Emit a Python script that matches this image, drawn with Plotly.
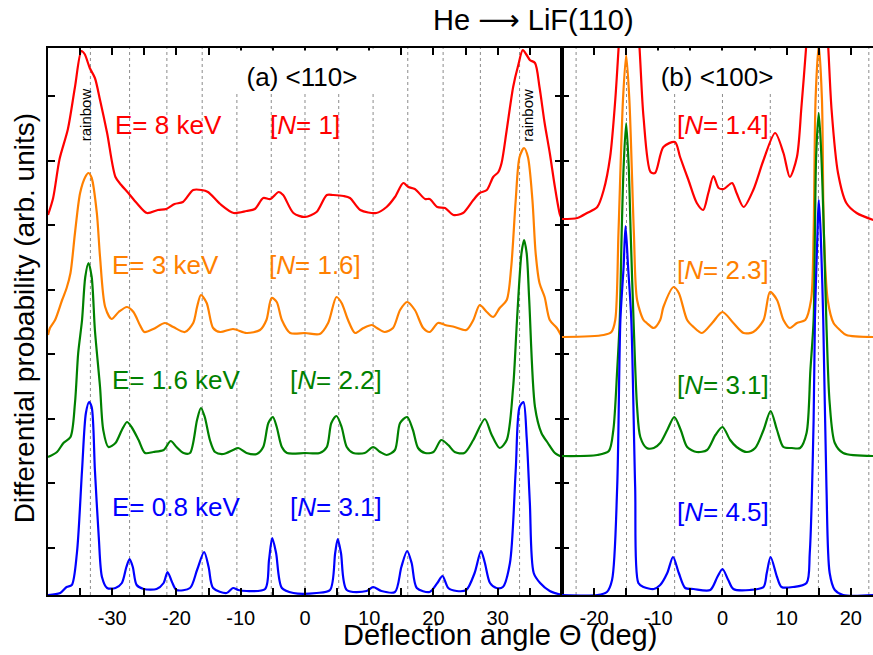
import plotly.graph_objects as go

# ---------------- data ----------------
# Panel (a) <110>
red_a_x = [-40, -39.2, -38.2, -36.9, -35.8, -34.8, -34.3, -33.5, -32.7, -31.9, -30.8, -29.5, -28.6, -27.5, -26.2,
           -24.6, -22.9, -21.6, -20.3, -19.0, -17.4, -16.1, -15.1, -13.2, -11.1, -9.1, -7.8, -6.5, -5.4, -4.1,
           -3.4, -1.8, 0, 1.8, 3.4, 4.4, 6.0, 7.0, 8.6, 11.1, 12.7, 14.0, 15.3, 16.1, 17.1, 18.7, 19.4, 20.6,
           21.8, 23.1, 24.6, 26.2, 27.2, 28.3, 29.3, 30.1, 30.6, 31.4, 32.4, 33.2, 33.9, 34.5, 35.0, 35.8, 36.5,
           37.3, 38.1, 38.9, 39.7, 40]
red_a_y = [3.80, 3.97, 4.36, 4.66, 5.08, 5.44, 5.41, 5.27, 5.17, 4.95, 4.62, 4.18, 4.10, 4.02, 3.92,
           3.82, 3.85, 3.86, 3.91, 3.93, 4.05, 4.05, 4.03, 3.91, 3.82, 3.84, 3.86, 3.97, 3.96, 4.03,
           4.00, 3.82, 3.78, 3.83, 4.00, 4.00, 3.99, 3.97, 3.85, 3.82, 3.88, 3.98, 4.12, 4.08, 4.06, 3.96, 3.96, 3.88,
           3.87, 3.80, 3.82, 3.95, 4.02, 4.05, 4.18, 4.23, 4.32, 4.65, 5.08, 5.30, 5.45, 5.40, 5.35, 5.32, 5.08,
           4.72, 4.42, 4.08, 3.80, 3.76]

orange_a_x = [-40, -39.7, -38.9, -37.8, -37.1, -36.5, -35.8, -35.0, -34.2, -33.7, -33.2, -32.4, -31.9, -31.1, -30.1,
              -29.0, -27.7, -26.7, -25.7, -25.0, -23.6, -21.8, -20.5, -18.7, -17.4, -16.8, -16.2, -15.3, -14.3,
              -13.2, -11.2, -9.1, -7.0, -6.0, -5.2, -4.4, -3.6, -2.3, 0, 2.3, 3.6, 4.9, 5.7, 6.7, 7.8, 9.1, 10.4,
              11.2, 12.4, 13.7, 14.8, 15.9, 17.1, 18.4, 19.4, 20.7, 21.8, 23.3, 25.1, 26.2, 27.2, 28.3, 29.3, 30.3,
              31.4, 32.1, 32.8, 33.4, 34.1, 34.7, 35.4, 35.9, 36.5, 37.3, 38.1, 39.2, 40]
orange_a_y = [2.60, 2.67, 2.75, 2.95, 3.07, 3.22, 3.62, 4.02, 4.18, 4.22, 4.17, 3.82, 3.38, 2.88, 2.76,
              2.83, 2.88, 2.83, 2.70, 2.63, 2.66, 2.72, 2.68, 2.63, 2.72, 2.88, 3.00, 2.92, 2.67,
              2.63, 2.66, 2.62, 2.65, 2.75, 2.97, 2.93, 2.75, 2.62, 2.62, 2.61, 2.72, 2.98, 2.92, 2.75, 2.62, 2.67, 2.70,
              2.67, 2.63, 2.67, 2.85, 2.93, 2.85, 2.67, 2.63, 2.72, 2.70, 2.68, 2.65, 2.75, 2.90, 2.83, 2.78, 2.87,
              2.95, 3.28, 3.95, 4.38, 4.47, 4.38, 3.95, 3.42, 3.12, 2.98, 2.75, 2.67, 2.58]

green_a_x = [-40, -38.6, -37.6, -36.5, -35.8, -35.3, -34.7, -34.2, -33.7, -33.2, -32.7, -31.9, -31.4, -30.6, -29.5,
             -28.5, -27.7, -27.0, -25.9, -24.9, -23.6, -22.0, -20.9, -20.0, -18.9, -17.9, -16.8, -16.2, -15.6,
             -14.8, -14.0, -12.7, -11.2, -10.4, -9.1, -7.5, -6.5, -5.7, -5.0, -4.4, -3.6, -2.8, 0, 2.3, 3.4, 4.1,
             4.9, 5.7, 6.5, 7.5, 9.3, 10.6, 11.7, 12.7, 14.0, 14.8, 15.9, 16.8, 17.6, 18.7, 20.0, 21.2, 22.3, 23.3,
             24.8, 26.2, 28.0, 29.0, 30.3, 31.4, 32.4, 33.0, 33.7, 34.1, 34.5, 34.9, 35.8, 36.8, 37.8, 38.9, 40]
green_a_y = [1.38, 1.43, 1.52, 1.58, 1.92, 2.42, 2.75, 3.18, 3.32, 3.18, 2.65, 2.08, 1.65, 1.48, 1.52,
             1.65, 1.73, 1.68, 1.55, 1.42, 1.43, 1.45, 1.54, 1.48, 1.42, 1.42, 1.75, 1.87, 1.78,
             1.55, 1.43, 1.41, 1.45, 1.47, 1.42, 1.41, 1.48, 1.72, 1.78, 1.68, 1.48, 1.42, 1.42, 1.42, 1.48, 1.72,
             1.79, 1.68, 1.48, 1.42, 1.42, 1.48, 1.43, 1.40, 1.45, 1.72, 1.78, 1.65, 1.47, 1.42, 1.43, 1.55, 1.50, 1.43,
             1.42, 1.55, 1.76, 1.61, 1.47, 1.55, 2.08, 2.75, 3.42, 3.55, 3.42, 2.95, 1.88, 1.62, 1.52, 1.42, 1.38]

blue_a_x = [-40, -38.1, -37.1, -36.3, -35.5, -34.7, -34.1, -33.6, -33.2, -32.7, -32.1, -31.6, -30.8, -29.5, -28.5,
            -27.8, -27.3, -26.8, -26.2, -25.1, -23.1, -22.0, -21.4, -20.7, -20.0, -17.9, -16.8, -15.7, -15.0,
            -14.3, -12.2, -11.2, -10.4, -9.1, -6.2, -5.6, -5.1, -4.5, -3.6, -1.8, 1.8, 3.9, 4.7, 5.1, 5.6, 6.5,
            9.6, 10.6, 11.9, 14.0, 15.0, 15.9, 16.6, 17.4, 19.4, 20.6, 21.4, 22.3, 23.6, 25.1, 26.4, 27.4, 28.0,
            28.8, 29.8, 30.8, 31.9, 32.8, 33.4, 34.0, 34.5, 35.0, 35.6, 36.6, 38.1, 40]
blue_a_y = [0.0, 0.02, 0.08, 0.10, 0.42, 1.25, 1.82, 1.93, 1.88, 1.25, 0.58, 0.18, 0.07, 0.07, 0.12,
            0.28, 0.36, 0.28, 0.10, 0.06, 0.06, 0.12, 0.23, 0.13, 0.05, 0.07, 0.25, 0.43, 0.28,
            0.07, 0.02, 0.07, 0.05, 0.04, 0.06, 0.35, 0.57, 0.42, 0.07, 0.02, 0.02, 0.05, 0.42, 0.56, 0.42, 0.05,
            0.04, 0.08, 0.04, 0.03, 0.28, 0.44, 0.32, 0.07, 0.03, 0.12, 0.19, 0.07, 0.04, 0.05, 0.22, 0.44, 0.32,
            0.12, 0.07, 0.08, 0.32, 1.25, 1.88, 1.93, 1.58, 0.92, 0.22, 0.12, 0.04, 0.0]

# Panel (b) <100>
red_b_x = [-25, -22.6, -21.1, -19.5, -18.5, -17.5, -16.7, -16.2, -15.5, -14.5, -13.5, -12.9, -12.3, -11.2, -10.5,
           -9.2, -7.4, -6.6, -5.3, -4.0, -3.0, -2.2, -1.4, -0.6, 0.2, 1.5, 2.2, 3.3, 4.8, 6.4, 8.2, 9.5, 10.5,
           11.6, 12.3, 13.0, 13.8, 15.0, 16.0, 16.5, 17.0, 18.0, 19.3, 20.9, 23.5]
red_b_y = [3.76, 3.77, 3.82, 3.88, 4.05, 4.38, 4.95, 5.45, 6.2, 6.3, 6.0, 5.45, 4.78, 4.23, 4.22,
           4.48, 4.53, 4.38, 4.15, 3.92, 3.85, 4.02, 4.19, 4.07, 4.06, 4.12, 4.02, 3.88, 4.05, 4.35, 4.62, 4.42, 4.18,
           4.38, 4.88, 5.45, 6.2, 6.3, 6.0, 5.45, 4.85, 4.22, 3.92, 3.82, 3.75]

orange_b_x = [-25, -18.5, -17.3, -16.7, -16.2, -15.5, -15.0, -14.5, -13.8, -13.3, -12.3, -11.8, -10.7, -9.7, -9.2,
              -7.6, -6.8, -5.5, -4.5, -3.2, -1.6, 0, 1.7, 3.3, 4.8, 6.4, 7.4, 8.5, 9.5, 10.5, 11.6, 12.9, 13.8,
              14.2, 14.5, 15.0, 15.5, 15.8, 16.4, 17.3, 18.3, 19.3, 23.5]
orange_b_y = [2.58, 2.60, 2.63, 2.75, 3.62, 4.95, 5.40, 4.95, 3.62, 2.95, 2.75, 2.72, 2.67, 2.75, 2.88,
              3.08, 3.02, 2.75, 2.68, 2.62, 2.72, 2.83, 2.72, 2.62, 2.63, 2.75, 3.03, 2.95, 2.75, 2.67, 2.72, 2.75, 2.95,
              3.62, 4.95, 5.50, 4.95, 3.62, 2.95, 2.72, 2.65, 2.60, 2.58]

green_b_x = [-25, -19.5, -17.7, -17.0, -16.4, -16.0, -15.7, -15.4, -15.0, -14.6, -14.3, -13.8, -13.3, -12.8, -11.8,
             -10.7, -9.7, -8.6, -7.5, -6.5, -5.5, -4.0, -2.4, -1.1, 0, 1.2, 2.2, 3.8, 5.1, 6.4, 7.5, 8.5, 9.5,
             10.8, 12.1, 13.1, 13.7, 14.2, 14.4, 14.6, 15.0, 15.4, 15.8, 16.2, 16.7, 17.5, 18.8, 23.5]
green_b_y = [1.39, 1.40, 1.44, 1.65, 2.25, 2.75, 3.62, 4.28, 4.72, 4.28, 3.62, 2.65, 1.88, 1.58, 1.47,
             1.47, 1.52, 1.65, 1.78, 1.65, 1.48, 1.43, 1.45, 1.60, 1.68, 1.55, 1.48, 1.43, 1.47, 1.65, 1.84, 1.65, 1.48,
             1.47, 1.47, 1.62, 2.25, 2.75, 3.62, 4.40, 4.82, 4.40, 3.62, 2.70, 1.92, 1.52, 1.42, 1.39]

blue_b_x = [-25, -19.5, -18.0, -17.2, -16.4, -15.9, -15.4, -15.1, -14.7, -14.2, -13.6, -13.1, -12.3, -10.7, -9.7,
            -8.6, -7.7, -6.8, -5.8, -4.5, -1.9, -0.8, 0, 0.9, 1.7, 4.3, 6.4, 6.9, 7.5, 8.5, 9.2, 11.0, 13.1,
            13.6, 14.2, 14.4, 14.8, 15.0, 15.3, 15.7, 16.2, 16.7, 17.5, 18.8, 23.5]
blue_b_y = [0.0, 0.0, 0.03, 0.15, 1.08, 2.75, 3.28, 3.69, 3.28, 2.75, 1.08, 0.12, 0.08, 0.06, 0.10,
            0.22, 0.38, 0.22, 0.07, 0.06, 0.05, 0.18, 0.26, 0.15, 0.06, 0.05, 0.08, 0.22, 0.38, 0.18, 0.08, 0.08, 0.12,
            0.42, 1.75, 2.75, 3.62, 3.95, 3.62, 2.75, 1.08, 0.22, 0.05, 0.0, 0.0]

# Diffraction (Bragg) angle guide lines
grid_a = [-33.4, -27.3, -21.5, -16.0, -10.6, -5.25, 0, 5.25, 10.6, 16.0, 21.5, 27.3, 33.4]
grid_b = [-22.8, -14.95, -7.45, 0, 7.45, 14.95, 22.8]

energies = ["E= 8 keV", "E= 3 keV", "E= 1.6 keV", "E= 0.8 keV"]
n_a = ["1", "1.6", "2.2", "3.1"]
n_b = ["1.4", "2.3", "3.1", "4.5"]
colors = ["#ff0000", "#ff8000", "#008000", "#0000ff"]

# label anchor positions (data units)
e_label_x = [-29.9, -30.3, -30.3, -30.3]
label_y_a = [4.70, 3.30, 2.15, 0.88]
n_label_x_a = [-5.75, -5.9, -2.6, -2.6]
label_y_b = [4.70, 3.25, 2.10, 0.83]
n_label_x_b = -7.35

FONT = "Liberation Sans, Arial, sans-serif"

fig = go.Figure()

curves_a = [(red_a_x, red_a_y), (orange_a_x, orange_a_y), (green_a_x, green_a_y), (blue_a_x, blue_a_y)]
curves_b = [(red_b_x, red_b_y), (orange_b_x, orange_b_y), (green_b_x, green_b_y), (blue_b_x, blue_b_y)]

for (x, y), c in zip(curves_a, colors):
    fig.add_trace(go.Scatter(x=x, y=y, mode="lines", xaxis="x", yaxis="y",
                             line=dict(color=c, width=2.2, shape="spline", smoothing=0.8),
                             showlegend=False, hoverinfo="skip"))
for (x, y), c in zip(curves_b, colors):
    fig.add_trace(go.Scatter(x=x, y=y, mode="lines", xaxis="x2", yaxis="y2",
                             line=dict(color=c, width=2.2, shape="spline", smoothing=0.8),
                             showlegend=False, hoverinfo="skip"))

shapes = []
for g in grid_a:
    shapes.append(dict(type="line", xref="x", yref="y domain", x0=g, x1=g, y0=0, y1=1,
                       line=dict(color="#8c8c8c", width=1, dash="dot"), layer="below"))
for g in grid_b:
    shapes.append(dict(type="line", xref="x2", yref="y2 domain", x0=g, x1=g, y0=0, y1=1,
                       line=dict(color="#8c8c8c", width=1, dash="dot"), layer="below"))

ann = []
# panel labels with white boxes that hide the guide lines (box kept just below the top frame)
ann.append(dict(text="(a) &lt;110&gt;", x=-0.5, y=5.235, xref="x", yref="y", showarrow=False,
                xanchor="center", yanchor="middle",
                font=dict(family=FONT, size=26, color="black"), bgcolor="white",
                width=146, height=41, valign="bottom", borderpad=0))
ann.append(dict(text="(b) &lt;100&gt;", x=-0.8, y=5.235, xref="x2", yref="y2", showarrow=False,
                xanchor="center", yanchor="middle",
                font=dict(family=FONT, size=26, color="black"), bgcolor="white",
                width=134, height=41, valign="bottom", borderpad=0))

for i in range(4):
    ann.append(dict(text=energies[i], x=e_label_x[i], y=label_y_a[i], xref="x", yref="y",
                    xanchor="left", yanchor="middle", showarrow=False,
                    font=dict(family=FONT, size=26, color=colors[i])))
    ann.append(dict(text="[<i>N</i>= " + n_a[i] + "]", x=n_label_x_a[i], y=label_y_a[i], xref="x", yref="y",
                    xanchor="left", yanchor="middle", showarrow=False,
                    font=dict(family=FONT, size=26, color=colors[i])))
    ann.append(dict(text="[<i>N</i>= " + n_b[i] + "]", x=n_label_x_b, y=label_y_b[i], xref="x2", yref="y2",
                    xanchor="left", yanchor="middle", showarrow=False,
                    font=dict(family=FONT, size=26, color=colors[i])))

for rx in (-34.2, 34.5):
    ann.append(dict(text="rainbow", x=rx, y=4.80, xref="x", yref="y", textangle=-90, showarrow=False,
                    xanchor="center", yanchor="middle",
                    font=dict(family=FONT, size=15, color="black")))

ann.append(dict(text="He <span style='font-family:DejaVu Sans'>\u27f6</span> LiF(110)",
                x=0.5885, y=1.051, xref="paper", yref="paper", showarrow=False,
                xanchor="center", yanchor="middle",
                font=dict(family=FONT, size=29, color="black")))
ann.append(dict(text="Deflection angle \u0398 (deg)", x=0.548, y=-0.074, xref="paper", yref="paper",
                showarrow=False, xanchor="center", yanchor="middle",
                font=dict(family=FONT, size=29, color="black")))
ann.append(dict(text="Differential probability (arb. units)", x=-0.029, y=0.506, xref="paper", yref="paper",
                showarrow=False, textangle=-90, xanchor="center", yanchor="middle",
                font=dict(family=FONT, size=28, color="black")))

ticks_a = list(range(-35, 40, 5))
ticks_b = list(range(-20, 25, 5))
ytick = [0.475 + 0.645 * k for k in range(8)]

axis_common = dict(showgrid=False, zeroline=False, showline=True, linecolor="black", linewidth=2,
                   ticks="inside", ticklen=7, tickwidth=1.5, tickcolor="black",
                   tickfont=dict(family=FONT, size=20, color="black"))

fig.update_layout(
    width=873, height=655,
    margin=dict(l=48, r=0, t=48, b=60),
    paper_bgcolor="white", plot_bgcolor="white",
    xaxis=dict(domain=[0, 0.6230], range=[-40, 40], anchor="y", mirror="ticks",
               tickvals=ticks_a, ticktext=[str(t) if t % 10 == 0 else "" for t in ticks_a],
               ticklabelstandoff=4, **axis_common),
    xaxis2=dict(domain=[0.6230, 1], range=[-25, 23.45], anchor="y2", mirror="ticks",
                tickvals=ticks_b, ticktext=[str(t) if t % 10 == 0 else "" for t in ticks_b],
                ticklabelstandoff=4, **axis_common),
    yaxis=dict(range=[0, 5.47], anchor="x", mirror="ticks", tickvals=ytick, showticklabels=False,
               **axis_common),
    yaxis2=dict(range=[0, 5.47], anchor="x2", mirror=False, tickvals=ytick, showticklabels=False,
                **axis_common),
    shapes=shapes,
    annotations=ann,
)

fig.write_html("out.html", config={"displayModeBar": False},
               post_script="document.body.style.margin='0';")
